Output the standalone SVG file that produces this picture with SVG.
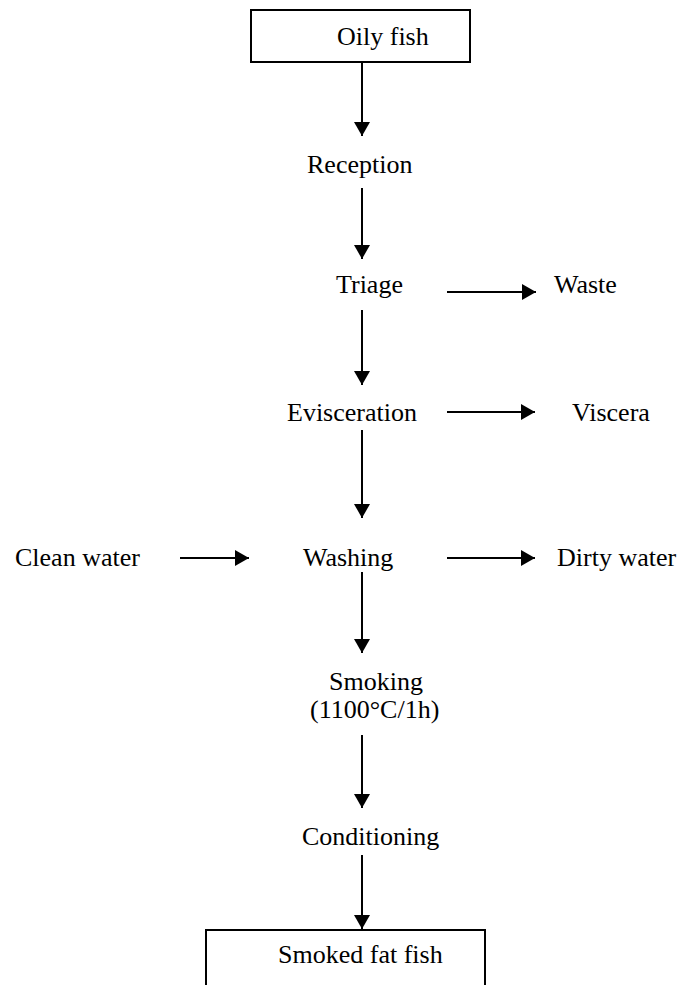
<svg xmlns="http://www.w3.org/2000/svg" width="694" height="985" viewBox="0 0 694 985">
<defs>
<marker id="ah" markerWidth="14" markerHeight="16" viewBox="0 0 14 16" refX="14" refY="8" markerUnits="userSpaceOnUse" orient="auto">
<path d="M0,0 L14,8 L0,16 Z" fill="#000"/>
</marker>
<style>
text{font-family:"Liberation Serif","Times New Roman",serif;font-size:26px;fill:#000}
.box{fill:none;stroke:#000;stroke-width:2}
.c line{stroke:#000;stroke-width:2;marker-end:url(#ah)}
</style>
</defs>
<rect width="694" height="985" fill="#fff"/>
<g id="oily-fish"><rect class="box" x="251" y="10" width="219" height="52"/><text x="337" y="45">Oily fish</text></g>
<g id="reception"><text x="307" y="173">Reception</text></g>
<g id="triage"><text x="336" y="293">Triage</text></g>
<g id="waste"><text x="554" y="293">Waste</text></g>
<g id="evisceration"><text x="287" y="421">Evisceration</text></g>
<g id="viscera"><text x="572" y="421">Viscera</text></g>
<g id="clean-water"><text x="15" y="566">Clean water</text></g>
<g id="washing"><text x="303" y="566">Washing</text></g>
<g id="dirty-water"><text x="557" y="566">Dirty water</text></g>
<g id="smoking"><text x="329" y="690">Smoking</text><text x="310" y="718">(1100°C/1h)</text></g>
<g id="conditioning"><text x="302" y="845">Conditioning</text></g>
<g id="smoked-fat-fish"><path class="box" d="M206,986 V930 H485 V986"/><text x="278" y="963">Smoked fat fish</text></g>
<g class="c" id="connectors">
<line x1="362" y1="63" x2="362" y2="136"/>
<line x1="362" y1="188" x2="362" y2="259"/>
<line x1="362" y1="310" x2="362" y2="385"/>
<line x1="362" y1="430" x2="362" y2="518"/>
<line x1="362" y1="572" x2="362" y2="653"/>
<line x1="362" y1="735" x2="362" y2="808"/>
<line x1="362" y1="855" x2="362" y2="929"/>
<line x1="447" y1="292" x2="536" y2="292"/>
<line x1="447" y1="412" x2="535" y2="412"/>
<line x1="180" y1="558" x2="249" y2="558"/>
<line x1="447" y1="558" x2="535" y2="558"/>
</g>
</svg>
